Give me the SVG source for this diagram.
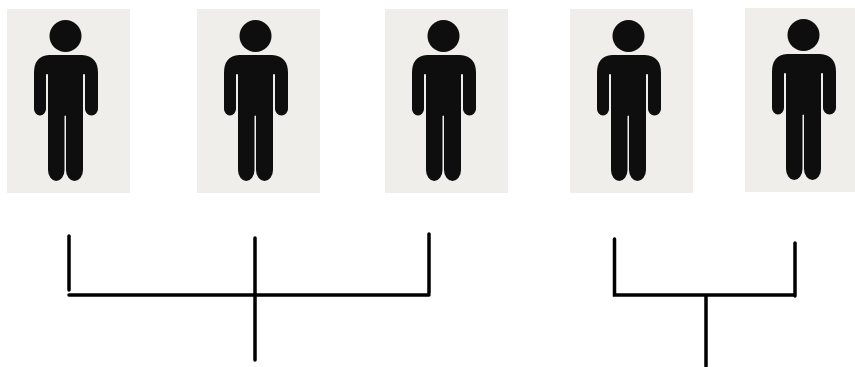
<svg xmlns="http://www.w3.org/2000/svg" width="855" height="367" viewBox="0 0 855 367">
<style>
.panel{fill:#f0eeeb}
.fig{fill:#0e0e0e}
.line{stroke:#000;stroke-width:3.500;fill:none;stroke-linecap:round}
</style>
<defs>
<g id="person">
<rect class="panel" x="0" y="0" width="123" height="184"/>
<circle class="fig" cx="58.500" cy="27" r="16"/>
<path class="fig" d="M42 46H75Q91 47 91 64V100A6.500 6.500 0 0 1 78 100V66A1 1 0 0 0 76 66V161A8.500 11 0 0 1 59 161V107A1 1 0 0 0 57.500 107V161A8.250 11 0 0 1 41 161V66A1 1 0 0 0 39 66V100A6 6.500 0 0 1 27 100V64Q27 47 42 46Z"/>
</g>
</defs>
<rect width="855" height="367" fill="#fff"/>
<g id="person1"><use href="#person" x="7" y="9"/></g>
<g id="person2"><use href="#person" x="197" y="9"/></g>
<g id="person3"><use href="#person" x="385" y="9"/></g>
<g id="person4"><use href="#person" x="570" y="9"/></g>
<g id="person5"><use href="#person" x="745" y="8"/></g>
<g id="connectors">
<path class="line" d="M69 236V290M69 295H429M429 234V293M255 238V360"/>
<path class="line" d="M614.500 239V295H795M795 243V296M706 295V366"/>
</g>
</svg>
